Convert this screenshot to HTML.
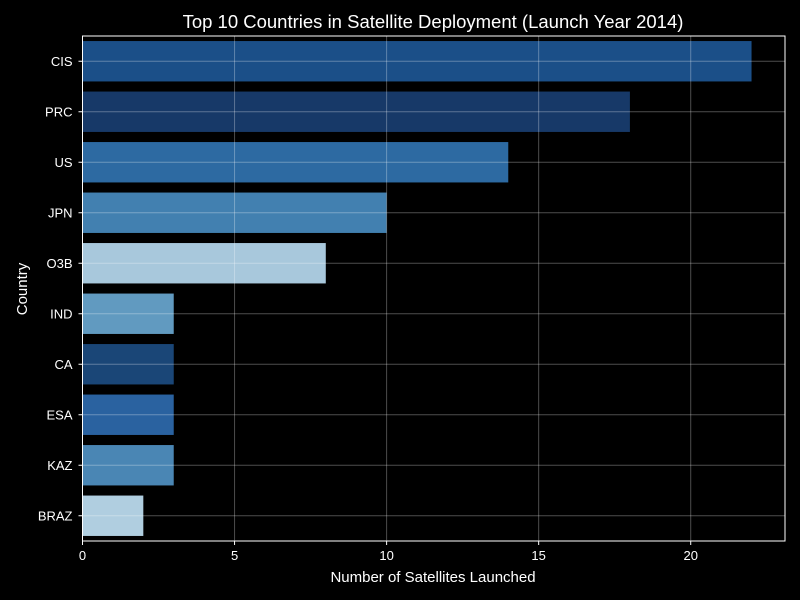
<!DOCTYPE html>
<html><head><meta charset="utf-8"><style>
html,body{margin:0;padding:0;background:#000;}
svg{display:block;font-family:"Liberation Sans",sans-serif;}
</style></head><body>
<svg id="chart" width="800" height="600">
<rect width="800" height="600" fill="#000"/>
<g id="bars"></g><g id="grid"></g><g id="axes"></g>
<text x="433" y="28" fill="#fff" font-size="18.5" text-anchor="middle">Top 10 Countries in Satellite Deployment (Launch Year 2014)</text>
<text x="433" y="582" fill="#fff" font-size="15" text-anchor="middle">Number of Satellites Launched</text>
<text x="27" y="289" fill="#fff" font-size="15" text-anchor="middle" transform="rotate(-90 27 289)">Country</text>
</svg>
<script>
const categories=["CIS","PRC","US","JPN","O3B","IND","CA","ESA","KAZ","BRAZ"];
const values=[22,18,14,10,8,3,3,3,3,2];
const colors=["#1b4f88","#173968","#2d6aa2","#4280b0","#a8c8dc","#619ac0","#1a4677","#2a62a0","#4a86b4","#b0cee0"];
const xTicks=[0,5,10,15,20];
const L=82.5,R=785,T=36,B=541,xMax=23.1;
const NS="http://www.w3.org/2000/svg";
const xs=v=>L+v/xMax*(R-L);
const step=(B-T)/categories.length;
const yc=i=>T+step*(i+0.5);
function mk(tag,attrs,parent,text){const e=document.createElementNS(NS,tag);for(const k in attrs)e.setAttribute(k,attrs[k]);if(text!==undefined)e.textContent=text;document.getElementById(parent).appendChild(e);return e;}
values.forEach((v,i)=>{
  const r=mk('rect',{x:L,y:yc(i)-step*0.4,width:xs(v)-L,height:step*0.8,fill:colors[i]},'bars');
  
  
  const g=mk('line',{x1:L,x2:R,y1:yc(i),y2:yc(i),stroke:'rgba(255,255,255,0.3)','stroke-width':1},'grid');
  
  
  const t=mk('line',{x1:L-4,x2:L,y1:yc(i),y2:yc(i),stroke:'#fff'},'axes');
  
  
  const lb=mk('text',{x:L-10,y:yc(i)+4.5,fill:'#fff','font-size':13,'text-anchor':'end'},'axes',categories[i]);
  
  
});
xTicks.forEach(v=>{
  const g=mk('line',{x1:xs(v),x2:xs(v),y1:T,y2:B,stroke:'rgba(255,255,255,0.3)','stroke-width':1},'grid');
  
  
  const t=mk('line',{x1:xs(v),x2:xs(v),y1:B,y2:B+4,stroke:'#fff'},'axes');
  
  
  const lb=mk('text',{x:xs(v),y:B+19,fill:'#fff','font-size':13,'text-anchor':'middle'},'axes',String(v));
  
  
});
const f=mk('rect',{x:L,y:T,width:R-L,height:B-T,fill:'none',stroke:'#fff','stroke-width':1},'axes');


</script>
</body></html>
